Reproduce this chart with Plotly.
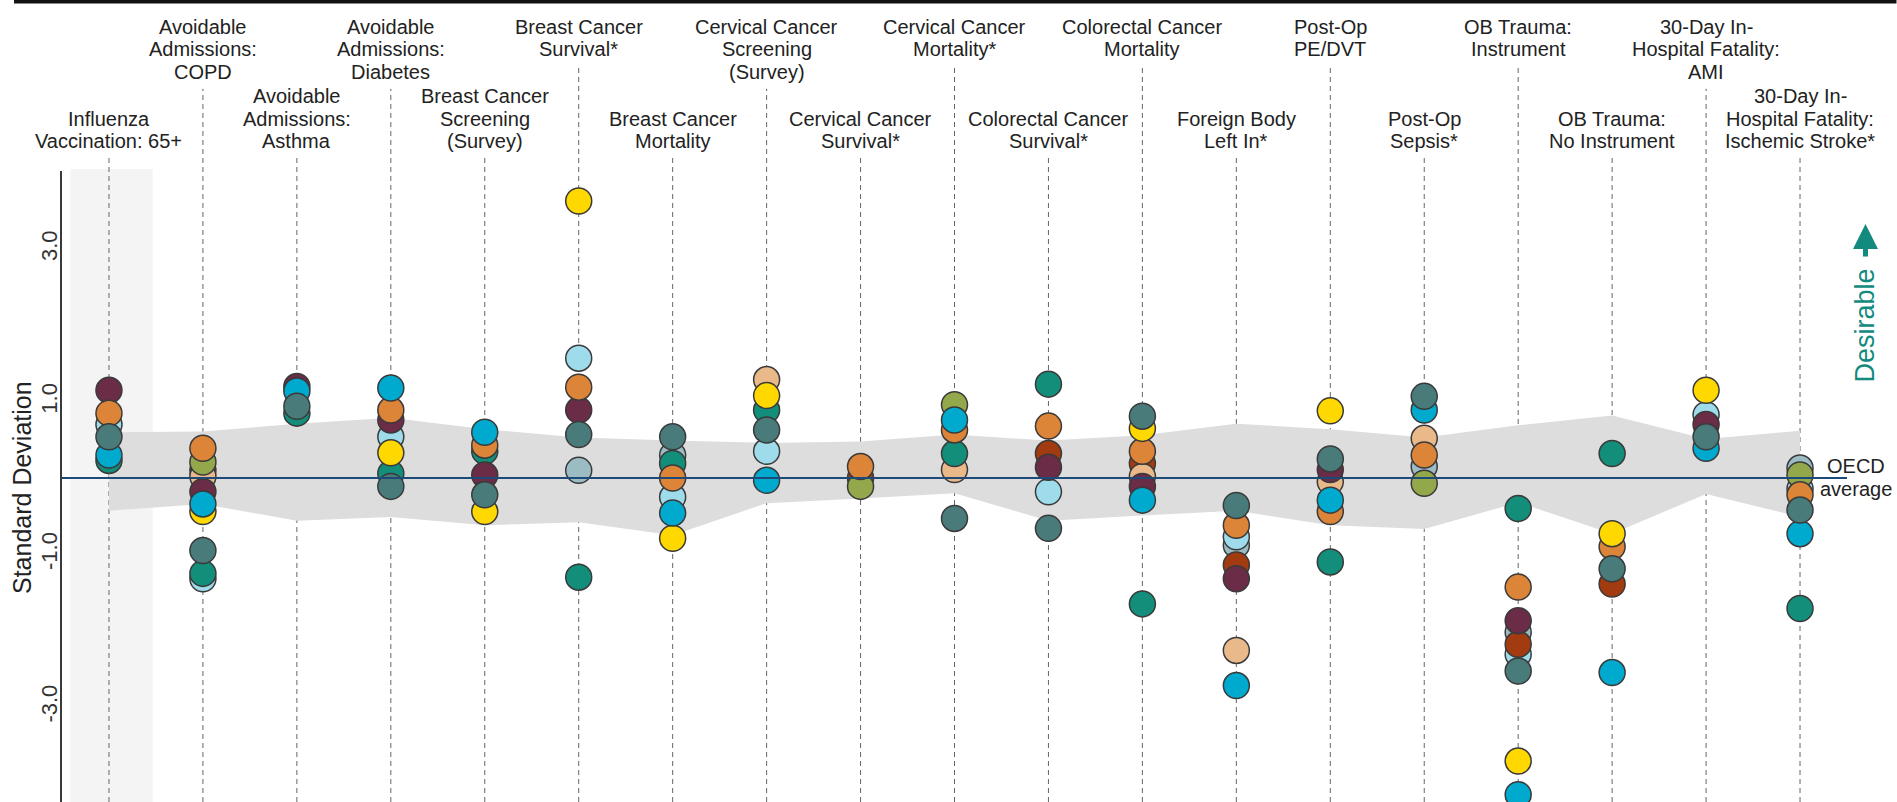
import plotly.graph_objects as go

# ---------------- data ----------------
categories = [
    "Influenza Vaccination: 65+", "Avoidable Admissions: COPD", "Avoidable Admissions: Asthma",
    "Avoidable Admissions: Diabetes", "Breast Cancer Screening (Survey)", "Breast Cancer Survival*",
    "Breast Cancer Mortality", "Cervical Cancer Screening (Survey)", "Cervical Cancer Survival*",
    "Cervical Cancer Mortality*", "Colorectal Cancer Survival*", "Colorectal Cancer Mortality",
    "Foreign Body Left In*", "Post-Op PE/DVT", "Post-Op Sepsis*", "OB Trauma: Instrument",
    "OB Trauma: No Instrument", "30-Day In-Hospital Fatality: AMI",
    "30-Day In-Hospital Fatality: Ischemic Stroke*",
]
label_lines = [
    ["Influenza", "Vaccination: 65+"],
    ["Avoidable", "Admissions:", "COPD"],
    ["Avoidable", "Admissions:", "Asthma"],
    ["Avoidable", "Admissions:", "Diabetes"],
    ["Breast Cancer", "Screening", "(Survey)"],
    ["Breast Cancer", "Survival*"],
    ["Breast Cancer", "Mortality"],
    ["Cervical Cancer", "Screening", "(Survey)"],
    ["Cervical Cancer", "Survival*"],
    ["Cervical Cancer", "Mortality*"],
    ["Colorectal Cancer", "Survival*"],
    ["Colorectal Cancer", "Mortality"],
    ["Foreign Body", "Left In*"],
    ["Post-Op", "PE/DVT"],
    ["Post-Op", "Sepsis*"],
    ["OB Trauma:", "Instrument"],
    ["OB Trauma:", "No Instrument"],
    ["30-Day In-", "Hospital Fatality:", "AMI"],
    ["30-Day In-", "Hospital Fatality:", "Ischemic Stroke*"],
]
tick_values = [-3, -1, 1, 3]
tick_labels = ["-3.0", "-1.0", "1.0", "3.0"]

# shaded range around the OECD average
band_upper = [0.60, 0.61, 0.71, 0.79, 0.64, 0.53, 0.49, 0.46, 0.48, 0.57,
              0.49, 0.56, 0.71, 0.64, 0.53, 0.69, 0.82, 0.51, 0.62]
band_lower = [-0.43, -0.34, -0.56, -0.51, -0.62, -0.58, -0.75, -0.33, -0.27, -0.20,
              -0.56, -0.49, -0.43, -0.62, -0.67, -0.32, -0.73, -0.21, -0.51]

N = None
grayblue  = [N, N, N, N, N, 0.10, 0.30, N, N, N, N, N, -0.88, N, 0.15, -2.02, N, N, 0.13]
lightblue = [0.70, -1.32, N, 0.54, N, 1.57, -0.25, 0.35, N, N, -0.18, N, -0.77, N, N, -2.31, N, 0.83, -0.14]
rust      = [N, 0.10, N, N, N, N, N, N, 0.00, N, 0.32, 0.19, -1.14, N, N, -2.18, -1.39, N, N]
peach     = [N, 0.02, N, N, N, N, N, 1.29, N, 0.11, N, 0.02, -2.26, -0.05, 0.52, N, N, N, N]
teal      = [0.23, -1.25, 0.85, 0.06, 0.35, -1.30, 0.19, 0.89, N, 0.32, 1.23, -1.65, N, -1.10, N, -0.40, 0.32, N, -1.71]
maroon    = [1.15, -0.18, 1.20, 0.76, 0.04, 0.89, N, N, N, N, 0.14, -0.11, -1.32, 0.11, N, -1.87, N, 0.70, N]
olive     = [N, 0.21, N, N, N, N, N, N, -0.11, 0.96, N, N, N, N, -0.07, N, N, N, 0.04]
orange    = [0.85, 0.39, N, 0.89, 0.43, 1.19, 0.00, N, 0.15, 0.63, 0.68, 0.35, -0.62, -0.44, 0.30, -1.43, -0.90, N, -0.22]
yellow    = [N, -0.44, N, 0.33, -0.44, 3.63, -0.79, 1.08, N, N, N, 0.65, N, 0.88, N, -3.71, -0.73, 1.15, N]
cyan      = [0.30, -0.34, 1.14, 1.18, 0.60, N, -0.46, -0.03, N, 0.76, N, -0.29, -2.72, -0.29, 0.89, -4.15, -2.55, 0.39, -0.73]
slate     = [0.54, -0.95, 0.94, -0.11, -0.22, 0.57, 0.54, 0.63, N, -0.53, -0.66, 0.81, -0.36, 0.25, 1.07, -2.53, -1.19, 0.54, -0.42]

series = [
    ("grayblue", grayblue), ("lightblue", lightblue), ("rust", rust), ("peach", peach),
    ("teal", teal), ("maroon", maroon), ("olive", olive), ("orange", orange),
    ("yellow", yellow), ("cyan", cyan), ("slate", slate),
]

# ---------------- styles ----------------
colors = {
    "grayblue": "#9cbcc4", "lightblue": "#9edcec", "rust": "#a33b10", "peach": "#e9b98a",
    "teal": "#128e7a", "maroon": "#6a2c47", "olive": "#93a84b", "orange": "#dc8437",
    "yellow": "#ffd800", "cyan": "#00a9ce", "slate": "#4a7b7b",
}
W, H = 1897, 802
L, R, T, B = 62, 1847.5, 171, 802
FONT = "Liberation Sans, Arial, sans-serif"


def xp(px):
    return (px - L) / (R - L)


def yp(py):
    return (B - py) / (B - T)


fig = go.Figure()

# shaded band
xs = list(range(len(categories)))
fig.add_trace(go.Scatter(
    x=xs + xs[::-1], y=band_upper + band_lower[::-1], fill="toself",
    fillcolor="#dddddd", line=dict(width=0), mode="lines", hoverinfo="skip", showlegend=False))

# country dots
for name, vals in series:
    px_ = [i for i, v in enumerate(vals) if v is not None]
    py_ = [v for v in vals if v is not None]
    fig.add_trace(go.Scatter(
        x=px_, y=py_, mode="markers", name=name, showlegend=False,
        marker=dict(size=26, color=colors[name], line=dict(color="#3a3a3a", width=1.5))))

shapes = []
# highlighted first column
shapes.append(dict(type="rect", xref="x", yref="paper", x0=-0.41, x1=0.465, y0=0, y1=yp(169),
                   fillcolor="#f4f4f4", line=dict(width=0), layer="below"))

annotations = []
LS = 22.4
for i, lines in enumerate(label_lines):
    n = len(lines)
    if i % 2 == 1:   # upper row, top aligned
        centers = [26 + k * LS for k in range(n)]
    else:            # lower row, bottom aligned
        centers = [140 - (n - 1 - k) * LS for k in range(n)]
    for txt, c in zip(lines, centers):
        annotations.append(dict(x=i, xref="x", y=yp(c + 1), yref="paper", text=txt,
                                showarrow=False, xanchor="center", yanchor="middle",
                                font=dict(family=FONT, size=20, color="#222222")))
    dash_top = centers[-1] + 18
    shapes.append(dict(type="line", xref="x", yref="paper", x0=i, x1=i, y0=0, y1=yp(dash_top),
                       line=dict(color="#666666", width=1, dash="5px,4px"), layer="below"))

# OECD average line
shapes.append(dict(type="line", xref="x", yref="y", x0=-0.5, x1=18.5, y0=0, y1=0,
                   line=dict(color="#1d4a78", width=2), layer="above"))
# top black rule
shapes.append(dict(type="line", xref="paper", yref="paper", x0=xp(14), x1=xp(1897),
                   y0=yp(1.5), y1=yp(1.5), line=dict(color="#111111", width=4)))


def note(px, py, text, size=20, color="#222222", angle=0):
    return dict(x=xp(px), xref="paper", y=yp(py), yref="paper", text=text, textangle=angle,
                showarrow=False, xanchor="center", yanchor="middle",
                font=dict(family=FONT, size=size, color=color))


annotations.append(note(1857, 466, "OECD"))
annotations.append(note(1857, 489, "average"))
annotations.append(note(22, 488, "Standard Deviation", size=25, angle=-90))
annotations.append(note(1866, 325, "Desirable", size=27, color="#138a7e", angle=-90))
annotations.append(dict(x=xp(1866), xref="paper", y=yp(224), yref="paper", text="",
                        showarrow=True, ax=0, ay=34, arrowhead=2, arrowsize=1, arrowwidth=5,
                        arrowcolor="#138a7e"))

fig.update_layout(
    width=W, height=H, margin=dict(l=L, r=W - R, t=T, b=0, pad=0),
    paper_bgcolor="white", plot_bgcolor="white",
    xaxis=dict(range=[-0.5, 18.5], showticklabels=False, showgrid=False, zeroline=False,
               showline=False, fixedrange=True),
    yaxis=dict(range=[(478 - B) / 76.3, (478 - T) / 76.3], tickvals=tick_values, ticktext=tick_labels,
               tickangle=-90, tickfont=dict(family=FONT, size=22, color="#333333"),
               showgrid=False, zeroline=False, showline=True, linecolor="#3a3a3a", linewidth=1.5,
               ticks="", ticklabelstandoff=-6),
    shapes=shapes, annotations=annotations, showlegend=False,
    font=dict(family=FONT),
)

fig.write_html("out.html", config={"displayModeBar": False},
               post_script="document.body.style.margin='0px';document.body.style.overflow='hidden';")
